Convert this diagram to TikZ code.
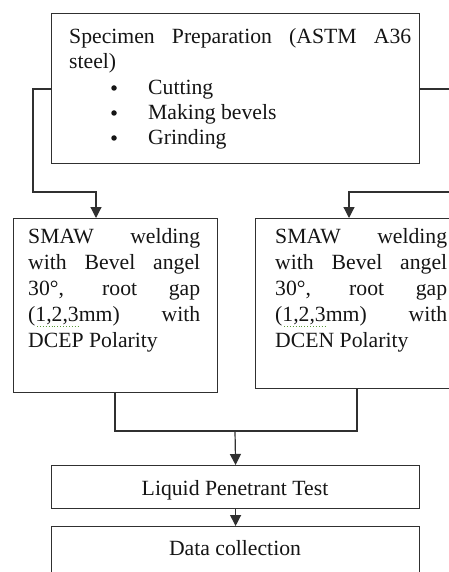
\documentclass[tikz,border=0pt]{standalone}
\usepackage{fontspec}
\setmainfont{Liberation Serif}
\usetikzlibrary{arrows.meta}
\newcommand\myfs{\fontsize{21.7pt}{26pt}\selectfont}
\definecolor{lncol}{HTML}{303030}
\definecolor{txcol}{HTML}{151515}
\definecolor{spell}{HTML}{5A9A3A}
\begin{document}
\begin{tikzpicture}[x=1pt,y=-1pt]
\tikzset{
  box/.style={draw=lncol, line width=1.2pt, inner sep=0pt, anchor=north west},
  ln/.style={draw=lncol, line width=1.2pt},
  arr/.style={ln, -{Triangle[width=11pt,length=11pt]}},
  txt/.style={anchor=base west, inner sep=0pt, font=\myfs, text=txcol},
  ctxt/.style={anchor=base, inner sep=0pt, font=\myfs, text=txcol},
  bul/.style={circle, fill=txcol, inner sep=0pt, minimum size=5.5pt},
  squig/.style={draw=spell, line width=0.9pt, dotted}
}
\useasboundingbox (0,0) rectangle (449,572);
\clip (0,0) rectangle (449,572);
\fill[white] (0,0) rectangle (449,572);

% boxes
\node[box, minimum width=368pt, minimum height=150pt] (prep) at (51,13) {};
\node[box, minimum width=204pt, minimum height=174pt] (smawL) at (13,218) {};
\node[box, minimum width=215pt, minimum height=170pt] (smawR) at (255,218) {};
\node[box, minimum width=368pt, minimum height=43pt] (lpt) at (51,465) {};
\node[box, minimum width=368pt, minimum height=70pt] (data) at (51,526) {};

% texts of the top box
\node[txt] (p1) at (69,44) {\makebox[342pt][s]{Specimen Preparation (ASTM A36}};
\node[txt] (p2) at (69,69) {steel)};
\node[bul] (b1) at (114,88) {};
\node[bul] (b2) at (114,113) {};
\node[bul] (b3) at (114,138) {};
\node[txt] (t1) at (148,95) {Cutting};
\node[txt] (t2) at (148,120) {Making bevels};
\node[txt] (t3) at (148,145) {Grinding};

% left SMAW texts
\node[txt] (l1) at (28,243) {\makebox[172pt][s]{SMAW welding}};
\node[txt] (l2) at (28,269) {\makebox[172pt][s]{with Bevel angel}};
\node[txt] (l3) at (28,295) {\makebox[172pt][s]{30°, root gap}};
\node[txt] (l4) at (28,321) {\makebox[172pt][s]{(1,2,3mm) with}};
\node[txt] (l5) at (28,347) {DCEP Polarity};
\draw[squig] (37,326) -- (79,326);

% right SMAW texts
\node[txt] (r1) at (275,243) {\makebox[172pt][s]{SMAW welding}};
\node[txt] (r2) at (275,269) {\makebox[172pt][s]{with Bevel angel}};
\node[txt] (r3) at (275,295) {\makebox[172pt][s]{30°, root gap}};
\node[txt] (r4) at (275,321) {\makebox[172pt][s]{(1,2,3mm) with}};
\node[txt] (r5) at (275,347) {DCEN Polarity};
\draw[squig] (284,326) -- (326,326);

% bottom texts
\node[ctxt] (lt) at (235,495) {Liquid Penetrant Test};
\node[ctxt] (dt) at (235,555) {Data collection};

% connectors
\coordinate (lk) at (33,89);
\coordinate (la) at (96,192);
\coordinate (rk) at (462,89);
\coordinate (ra) at (349,192);
\draw[arr] (prep.west |- lk) -- (lk) |- (la) -- (smawL.north -| la);
\draw[arr] (prep.east |- rk) -- (rk) |- (ra) -- (smawR.north -| ra);

\coordinate (jl) at (115,431);
\coordinate (jr) at (357,431);
\coordinate (jm) at (235,431);
\draw[ln] (smawL.south -| jl) -- (jl) -- (jr) -- (smawR.south -| jr);
\draw[arr] (jm) -- (lpt.north);
\draw[arr] (lpt.south) -- (data.north);
\end{tikzpicture}
\end{document}
